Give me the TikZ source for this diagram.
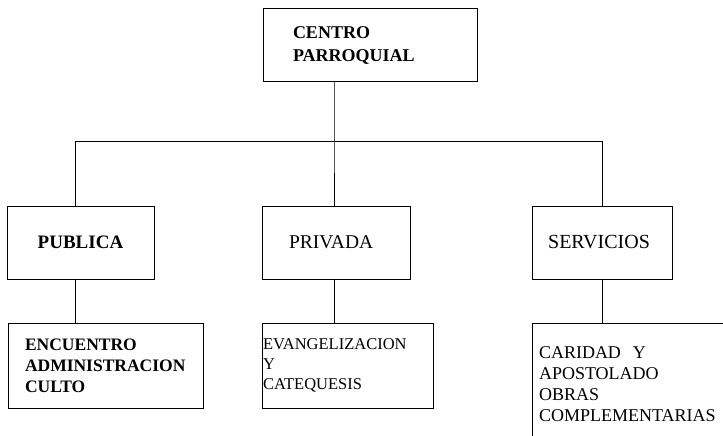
\documentclass[tikz,border=0pt]{standalone}
\usepackage{fontspec}
\setmainfont{Liberation Serif}
\usetikzlibrary{positioning}

\begin{document}
\begin{tikzpicture}[
    x=1pt, y=-1pt,
    line width=1pt,
    box/.style={rectangle, draw, align=center, minimum height=73pt, inner sep=0pt, font=\fontsize{18}{21}\selectfont},
    item/.style={rectangle, draw, align=left, minimum height=85pt, inner ysep=0pt, font=\fontsize{18}{21}\selectfont}
]
\useasboundingbox (0,0) rectangle (723,436);

% Top
\node[box, align=left, text width=154pt, inner xsep=30pt, font=\fontsize{18}{23}\selectfont\bfseries] (centro) at (370,45.5) {CENTRO\\PARROQUIAL};

% Second level
\node[box, minimum width=147pt, font=\fontsize{19}{21}\selectfont\bfseries] (publica) at (80.5,242.5) {PUBLICA};
\node[box, minimum width=148pt, text width=146pt, align=left, inner xsep=1pt] (privada) at (336,242.5) {\hspace*{26pt}\fontsize{19.5}{21}\selectfont PRIVADA};
\node[box, minimum width=140pt, font=\fontsize{20}{21}\selectfont] (servicios) at (602,242.5) {SERVICIOS\hspace*{6pt}};

% Third level
\node[item, text width=161pt, inner xsep=17pt, font=\fontsize{17.5}{21}\selectfont\bfseries] (encuentro) at (105.5,365.5) {ENCUENTRO\\ADMINISTRACION\\CULTO};
\node[item, text width=169pt, inner xsep=1pt, font=\fontsize{16.5}{20}\selectfont] (evangel) at (347.5,365.5) {EVANGELIZACION\\Y\\CATEQUESIS};
\node[item, text width=189pt, inner xsep=7pt, minimum height=122pt] (caridad) at (633.5,384) {CARIDAD~~Y\\APOSTOLADO\\OBRAS\\COMPLEMENTARIAS};

% Connectors
\coordinate (busL) at (75,141);
\coordinate (busM) at (334,141);
\coordinate (busR) at (602,141);
\draw (centro.south -| busM) -- (busM) -- (busM |- privada.north);
\draw (busL |- publica.north) -- (busL) -- (busR) -- (busR |- servicios.north);
\draw (busL |- publica.south) -- (busL |- encuentro.north);
\draw (busM |- privada.south) -- (busM |- evangel.north);
\draw (busR |- servicios.south) -- (busR |- caridad.north);

\end{tikzpicture}
\end{document}
